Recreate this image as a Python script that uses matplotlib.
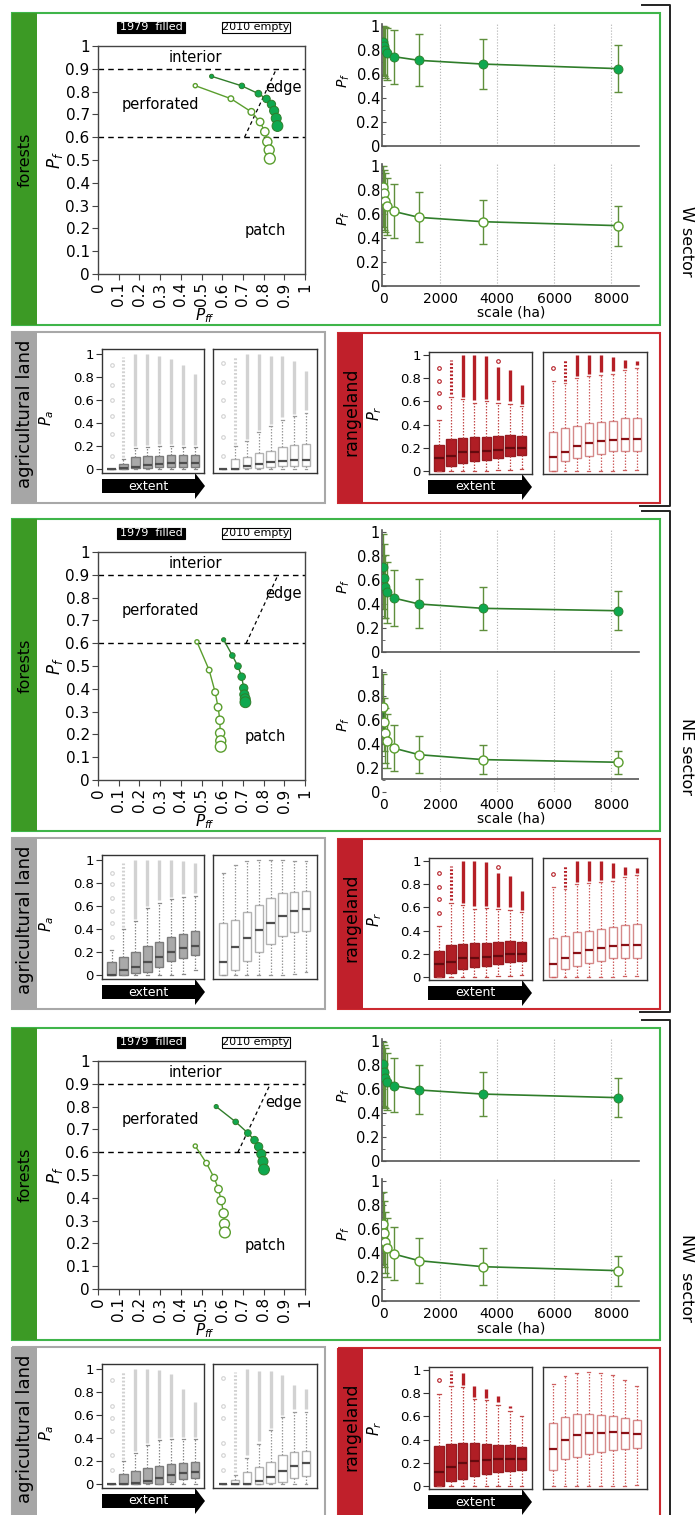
import matplotlib
matplotlib.use("Agg")
import matplotlib.pyplot as plt
import numpy as np
from matplotlib.patches import Rectangle, FancyArrow
from matplotlib.ticker import MultipleLocator

W, H = 697, 1515

SECTOR_OFFSETS = [0, 506, 1015]
SECTOR_NAMES = ["W sector", "NE sector", "NW  sector"]
SECTOR_LABEL_Y = [241, 757, 1278]

# forest profiles: P_ff vs P_f for increasing window size
W_PFF_1979 = [0.549, 0.695, 0.775, 0.814, 0.838, 0.851, 0.861, 0.867]
W_PF_1979 = [0.867, 0.825, 0.791, 0.768, 0.744, 0.716, 0.683, 0.649]
W_PFF_2010 = [0.470, 0.642, 0.741, 0.783, 0.806, 0.818, 0.827, 0.830]
W_PF_2010 = [0.826, 0.769, 0.711, 0.667, 0.624, 0.580, 0.544, 0.506]
NE_PFF_1979 = [0.607, 0.649, 0.676, 0.694, 0.704, 0.707, 0.711, 0.712]
NE_PF_1979 = [0.615, 0.546, 0.499, 0.453, 0.403, 0.375, 0.356, 0.341]
NE_PFF_2010 = [0.478, 0.537, 0.566, 0.580, 0.589, 0.590, 0.593, 0.593]
NE_PF_2010 = [0.606, 0.482, 0.385, 0.319, 0.262, 0.206, 0.172, 0.146]
NW_PFF_1979 = [0.571, 0.665, 0.724, 0.756, 0.776, 0.789, 0.797, 0.802]
NW_PF_1979 = [0.800, 0.733, 0.684, 0.653, 0.624, 0.592, 0.559, 0.524]
NW_PFF_2010 = [0.470, 0.524, 0.561, 0.582, 0.595, 0.607, 0.611, 0.613]
NW_PF_2010 = [0.627, 0.552, 0.488, 0.438, 0.388, 0.332, 0.285, 0.248]

# dashed "edge" boundary, from (P_ff, 0.6) to (P_ff, 0.9)
EDGE_W = [0.708, 0.862]
EDGE_NE = [0.716, 0.870]
EDGE_NW = [0.676, 0.833]

# P_f against scale, mean with error bars
SCALE_HA = [5, 20, 50, 140, 370, 1260, 3500, 8250]
W_MEAN_1979 = [0.87, 0.83, 0.80, 0.775, 0.745, 0.714, 0.683, 0.645]
W_LO_1979 = [0.59, 0.58, 0.57, 0.55, 0.52, 0.50, 0.475, 0.45]
W_HI_1979 = [1.0, 0.99, 0.99, 0.98, 0.97, 0.93, 0.89, 0.84]
W_MEAN_2010 = [0.828, 0.772, 0.708, 0.667, 0.622, 0.572, 0.536, 0.503]
W_LO_2010 = [0.49, 0.47, 0.45, 0.425, 0.397, 0.37, 0.35, 0.336]
W_HI_2010 = [1.0, 0.97, 0.944, 0.897, 0.847, 0.78, 0.717, 0.667]
NE_MEAN_1979 = [0.711, 0.614, 0.544, 0.50, 0.45, 0.40, 0.364, 0.344]
NE_LO_1979 = [0.36, 0.286, 0.28, 0.244, 0.22, 0.20, 0.183, 0.18]
NE_HI_1979 = [0.98, 0.90, 0.81, 0.75, 0.68, 0.606, 0.544, 0.506]
NE_MEAN_2010 = [0.711, 0.587, 0.488, 0.427, 0.366, 0.311, 0.27, 0.248]
NE_LO_2010 = [0.40, 0.34, 0.24, 0.20, 0.174, 0.16, 0.15, 0.15]
NE_HI_2010 = [0.98, 0.785, 0.70, 0.647, 0.556, 0.463, 0.39, 0.344]
NW_MEAN_1979 = [0.806, 0.739, 0.689, 0.661, 0.628, 0.592, 0.558, 0.528]
NW_LO_1979 = [0.46, 0.453, 0.44, 0.425, 0.406, 0.392, 0.378, 0.367]
NW_HI_1979 = [0.99, 0.967, 0.94, 0.897, 0.856, 0.80, 0.744, 0.689]
NW_MEAN_2010 = [0.642, 0.564, 0.494, 0.442, 0.392, 0.336, 0.286, 0.253]
NW_LO_2010 = [0.31, 0.286, 0.23, 0.197, 0.175, 0.153, 0.133, 0.128]
NW_HI_2010 = [0.91, 0.83, 0.744, 0.69, 0.62, 0.522, 0.439, 0.375]

# box plots: q1, median, q3, whisker low/high, top of outlier column, single outliers
W_AGRI_1979 = dict(
    q1=[0, 0, 0.01, 0.01, 0.02, 0.02, 0.02, 0.02],
    med=[0, 0.01, 0.02, 0.035, 0.04, 0.05, 0.05, 0.05],
    q3=[0, 0.04, 0.10, 0.11, 0.11, 0.12, 0.12, 0.12],
    lo=[0, 0, 0, 0, 0, 0, 0, 0],
    hi=[0, 0.085, 0.18, 0.19, 0.20, 0.20, 0.19, 0.19],
    top=[0, 0.97, 1.0, 1.0, 0.98, 0.96, 0.90, 0.83],
    single={0: [0.11, 0.30, 0.46, 0.60, 0.73, 0.90]},
)
W_AGRI_2010 = dict(
    q1=[0, 0, 0.005, 0.01, 0.02, 0.03, 0.03, 0.03],
    med=[0, 0.0, 0.03, 0.045, 0.06, 0.07, 0.08, 0.08],
    q3=[0, 0.085, 0.10, 0.137, 0.16, 0.19, 0.21, 0.22],
    lo=[0, 0, 0, 0, 0, 0, 0, 0],
    hi=[0, 0.20, 0.24, 0.32, 0.37, 0.43, 0.46, 0.49],
    top=[0, 0.97, 1.0, 1.0, 0.98, 0.98, 0.94, 0.85],
    single={0: [0.11, 0.28, 0.46, 0.60, 0.76, 0.92]},
)
W_RANGE_1979 = dict(
    q1=[0, 0.04, 0.065, 0.085, 0.095, 0.11, 0.125, 0.135],
    med=[0.115, 0.125, 0.16, 0.165, 0.175, 0.185, 0.195, 0.20],
    q3=[0.22, 0.28, 0.285, 0.29, 0.295, 0.305, 0.31, 0.305],
    lo=[0, 0, 0, 0, 0, 0.005, 0.01, 0.015],
    hi=[0.44, 0.64, 0.62, 0.59, 0.60, 0.59, 0.58, 0.56],
    top=[0, 0.96, 1.0, 1.0, 0.99, 0.90, 0.87, 0.74],
    single={0: [0.556, 0.67, 0.78, 0.89], 5: [0.945]},
)
W_RANGE_2010 = dict(
    q1=[0, 0.09, 0.11, 0.13, 0.15, 0.17, 0.17, 0.17],
    med=[0.12, 0.165, 0.215, 0.24, 0.255, 0.27, 0.28, 0.28],
    q3=[0.337, 0.37, 0.39, 0.41, 0.42, 0.435, 0.455, 0.46],
    lo=[0, 0, 0, 0, 0, 0, 0.005, 0.01],
    hi=[0.78, 0.76, 0.80, 0.82, 0.83, 0.84, 0.87, 0.89],
    top=[0, 0.96, 1.0, 1.0, 1.0, 0.98, 0.96, 0.95],
    single={0: [0.89]},
)
NE_AGRI_1979 = dict(
    q1=[0, 0, 0.015, 0.03, 0.07, 0.12, 0.145, 0.17],
    med=[0, 0.04, 0.065, 0.11, 0.155, 0.20, 0.235, 0.255],
    q3=[0.11, 0.16, 0.20, 0.25, 0.29, 0.33, 0.36, 0.38],
    lo=[0, 0, 0, 0, 0, 0, 0.01, 0.04],
    hi=[0.22, 0.40, 0.47, 0.58, 0.63, 0.66, 0.68, 0.69],
    top=[0, 0.97, 1.0, 1.0, 1.0, 1.0, 0.99, 0.97],
    single={0: [0.33, 0.45, 0.56, 0.67, 0.79, 0.89]},
)
NE_AGRI_2010 = dict(
    q1=[0, 0.04, 0.12, 0.20, 0.27, 0.34, 0.37, 0.38],
    med=[0.115, 0.24, 0.32, 0.39, 0.45, 0.515, 0.555, 0.57],
    q3=[0.45, 0.48, 0.55, 0.61, 0.67, 0.71, 0.72, 0.73],
    lo=[0, 0, 0, 0, 0, 0, 0.01, 0.03],
    hi=[0.89, 0.96, 0.99, 1.0, 1.0, 1.0, 0.99, 0.99],
    top=[0, 0, 0, 0, 0, 0, 0, 0],
    single={},
)
NE_RANGE_1979 = dict(
    q1=[0, 0.038, 0.065, 0.085, 0.095, 0.11, 0.125, 0.135],
    med=[0.11, 0.13, 0.162, 0.165, 0.175, 0.185, 0.195, 0.20],
    q3=[0.226, 0.278, 0.285, 0.29, 0.295, 0.305, 0.31, 0.305],
    lo=[0, 0, 0, 0, 0, 0.005, 0.01, 0.015],
    hi=[0.443, 0.64, 0.62, 0.59, 0.595, 0.585, 0.58, 0.56],
    top=[0, 0.96, 1.0, 1.0, 0.99, 0.90, 0.87, 0.74],
    single={0: [0.554, 0.67, 0.78, 0.893], 5: [0.945]},
)
NE_RANGE_2010 = dict(
    q1=[0, 0.072, 0.096, 0.119, 0.14, 0.16, 0.16, 0.16],
    med=[0.11, 0.16, 0.206, 0.235, 0.25, 0.264, 0.275, 0.275],
    q3=[0.333, 0.357, 0.386, 0.40, 0.414, 0.43, 0.45, 0.458],
    lo=[0, 0, 0, 0, 0, 0, 0.005, 0.01],
    hi=[0.777, 0.757, 0.80, 0.81, 0.82, 0.83, 0.86, 0.88],
    top=[0, 0.96, 1.0, 1.0, 1.0, 0.98, 0.95, 0.94],
    single={0: [0.884]},
)
NW_AGRI_1979 = dict(
    q1=[0, 0, 0.0, 0.01, 0.0, 0.02, 0.04, 0.05],
    med=[0, 0.0, 0.01, 0.03, 0.05, 0.075, 0.095, 0.105],
    q3=[0, 0.087, 0.11, 0.14, 0.16, 0.17, 0.18, 0.19],
    lo=[0, 0, 0, 0, 0, 0, 0, 0],
    hi=[0, 0.20, 0.27, 0.34, 0.38, 0.39, 0.39, 0.39],
    top=[0, 0.97, 1.0, 1.0, 0.99, 0.96, 0.83, 0.71],
    single={0: [0.12, 0.25, 0.46, 0.57, 0.68, 0.90]},
)
NW_AGRI_2010 = dict(
    q1=[0, 0, 0, 0, 0.005, 0.02, 0.05, 0.07],
    med=[0, 0, 0.0, 0.025, 0.06, 0.11, 0.16, 0.185],
    q3=[0, 0.035, 0.10, 0.145, 0.19, 0.25, 0.28, 0.29],
    lo=[0, 0, 0, 0, 0, 0, 0, 0],
    hi=[0, 0.08, 0.23, 0.35, 0.47, 0.58, 0.63, 0.63],
    top=[0, 0.97, 1.0, 0.98, 0.98, 0.95, 0.86, 0.83],
    single={0: [0.12, 0.25, 0.36, 0.57, 0.68, 0.92]},
)
NW_RANGE_1979 = dict(
    q1=[0, 0.04, 0.06, 0.085, 0.10, 0.12, 0.13, 0.135],
    med=[0.117, 0.166, 0.194, 0.214, 0.22, 0.23, 0.23, 0.23],
    q3=[0.343, 0.366, 0.37, 0.37, 0.36, 0.35, 0.35, 0.34],
    lo=[0, 0, 0, 0, 0, 0, 0, 0],
    hi=[0.79, 0.866, 0.85, 0.75, 0.74, 0.70, 0.65, 0.60],
    top=[0, 0.99, 0.97, 0.866, 0.837, 0.78, 0.694, 0],
    single={0: [0.91]},
)
NW_RANGE_2010 = dict(
    q1=[0.137, 0.237, 0.25, 0.28, 0.294, 0.306, 0.317, 0.329],
    med=[0.323, 0.394, 0.437, 0.457, 0.457, 0.463, 0.457, 0.446],
    q3=[0.546, 0.594, 0.617, 0.617, 0.609, 0.603, 0.589, 0.571],
    lo=[0, 0, 0, 0, 0, 0, 0, 0.01],
    hi=[0.88, 0.946, 0.97, 0.98, 0.97, 0.957, 0.914, 0.866],
    top=[0, 0, 0, 0, 0, 0, 0, 0],
    single={},
)

SECTORS = [
    dict(pff79=W_PFF_1979, pf79=W_PF_1979, pff10=W_PFF_2010, pf10=W_PF_2010, edge=EDGE_W,
         m79=W_MEAN_1979, lo79=W_LO_1979, hi79=W_HI_1979,
         m10=W_MEAN_2010, lo10=W_LO_2010, hi10=W_HI_2010,
         agri=(W_AGRI_1979, W_AGRI_2010), rng=(W_RANGE_1979, W_RANGE_2010)),
    dict(pff79=NE_PFF_1979, pf79=NE_PF_1979, pff10=NE_PFF_2010, pf10=NE_PF_2010, edge=EDGE_NE,
         m79=NE_MEAN_1979, lo79=NE_LO_1979, hi79=NE_HI_1979,
         m10=NE_MEAN_2010, lo10=NE_LO_2010, hi10=NE_HI_2010,
         agri=(NE_AGRI_1979, NE_AGRI_2010), rng=(NE_RANGE_1979, NE_RANGE_2010)),
    dict(pff79=NW_PFF_1979, pf79=NW_PF_1979, pff10=NW_PFF_2010, pf10=NW_PF_2010, edge=EDGE_NW,
         m79=NW_MEAN_1979, lo79=NW_LO_1979, hi79=NW_HI_1979,
         m10=NW_MEAN_2010, lo10=NW_LO_2010, hi10=NW_HI_2010,
         agri=(NW_AGRI_1979, NW_AGRI_2010), rng=(NW_RANGE_1979, NW_RANGE_2010)),
]

TENTH_LABELS = ["0", "0.1", "0.2", "0.3", "0.4", "0.5", "0.6", "0.7", "0.8", "0.9", "1"]
FIFTH_LABELS = ["0", "0.2", "0.4", "0.6", "0.8", "1"]

GREEN_BAR = "#3c9a25"
GREEN_LINE = "#3fb54a"
GREEN_FILL = "#0fa84f"
GREEN_DARK = "#2f7d2a"
GREEN_EMPTY = "#5a9e2e"
ERR_GREEN = "#5f8f3c"
GRAY_BAR = "#a6a6a6"
GRAY_LINE = "#a8a8a8"
RED_BAR = "#c0202b"
RED_LINE = "#cc2a30"
AXIS_GRAY = "#444444"

MARKER_SIZES = [3.0, 4.0, 4.8, 5.4, 6.0, 6.6, 7.2, 7.8]

AGRI_79_STYLE = dict(face="#a9a9a9", edge="#7c7c7c", med="#4e4e4e", whisk="#8a8a8a", col="#d2d2d2")
AGRI_10_STYLE = dict(face="white", edge="#b3b3b3", med="#4e4e4e", whisk="#9a9a9a", col="#d2d2d2")
RANGE_79_STYLE = dict(face="#b01e25", edge="#971a20", med="#640a0e", whisk="#c34a4a", col="#b51f26")
RANGE_10_STYLE = dict(face="white", edge="#d58a8a", med="#8a1015", whisk="#cf6060", col="#b51f26")

fig = plt.figure(figsize=(W / 100, H / 100), dpi=100)
bg = fig.add_axes([0, 0, 1, 1], zorder=0)
bg.set_xlim(0, W)
bg.set_ylim(H, 0)
bg.axis("off")


def px_axes(x0, y0, x1, y1):
    ax = fig.add_axes([x0 / W, 1 - y1 / H, (x1 - x0) / W, (y1 - y0) / H], zorder=1)
    ax.set_facecolor("none")
    return ax


def draw_profile(ax, sec):
    ax.set_xlim(0, 1)
    ax.set_ylim(0, 1)
    ax.axhline(0.9, color="black", lw=1, ls=(0, (4, 3)))
    ax.axhline(0.6, color="black", lw=1, ls=(0, (4, 3)))
    ax.plot(sec["edge"], [0.6, 0.9], color="black", lw=0.9, ls=(0, (3, 2.5)))
    sizes = np.array(MARKER_SIZES) ** 2
    ax.plot(sec["pff10"], sec["pf10"], color=GREEN_EMPTY, lw=1, zorder=2)
    ax.scatter(sec["pff10"], sec["pf10"], s=sizes, facecolor="white", edgecolor=GREEN_EMPTY, lw=1, zorder=3)
    ax.plot(sec["pff79"], sec["pf79"], color=GREEN_DARK, lw=1, zorder=2)
    ax.scatter(sec["pff79"], sec["pf79"], s=sizes, facecolor=GREEN_FILL, edgecolor=GREEN_DARK, lw=0.7, zorder=4)
    ax.text(0.47, 0.95, "interior", ha="center", va="center", fontsize=10.5)
    ax.text(0.30, 0.745, "perforated", ha="center", va="center", fontsize=10.5)
    ax.text(0.81, 0.82, "edge", ha="left", va="center", fontsize=10.5)
    ax.text(0.81, 0.19, "patch", ha="center", va="center", fontsize=10.5)
    ax.set_xticks(np.arange(11) / 10)
    ax.set_xticklabels(TENTH_LABELS, rotation=90)
    ax.set_yticks(np.arange(11) / 10)
    ax.set_yticklabels(TENTH_LABELS)
    ax.tick_params(labelsize=11, direction="out", length=4, color=AXIS_GRAY, pad=2)
    for sp in ax.spines.values():
        sp.set_color(AXIS_GRAY)
        sp.set_linewidth(1)


def draw_scale(ax, mean, lo, hi, filled, bottom, spine_at=0.0):
    ax.set_xlim(-40, 8980)
    ax.set_ylim(0, 1.017)
    mean = np.array(mean)
    yerr = [mean - np.array(lo), np.array(hi) - mean]
    for x in [2000, 4000, 6000, 8000]:
        ax.axvline(x, color="#b0b0b0", lw=0.8, ls=":", zorder=0)
    ax.errorbar(SCALE_HA, mean, yerr=yerr, fmt="none", ecolor=ERR_GREEN, elinewidth=1, capsize=2.8, capthick=1, zorder=2)
    ax.plot(SCALE_HA, mean, color=GREEN_DARK, lw=1.2, zorder=3)
    if filled:
        ax.plot(SCALE_HA, mean, "o", ms=6.5, mfc=GREEN_FILL, mec=GREEN_DARK, mew=0.6, zorder=4)
    else:
        ax.plot(SCALE_HA, mean, "o", ms=6.5, mfc="white", mec=GREEN_EMPTY, mew=1, zorder=4)
    ax.spines["top"].set_visible(False)
    ax.spines["right"].set_visible(False)
    for side in ("left", "bottom"):
        ax.spines[side].set_color("#555555")
        ax.spines[side].set_linewidth(1.2)
    if spine_at > 0:
        ax.spines["bottom"].set_visible(False)
        ax.axhline(spine_at, color="#555555", lw=1.2)
        ax.spines["left"].set_bounds(spine_at, 1.017)
    ax.set_yticks(np.arange(6) / 5)
    ax.set_yticklabels(FIFTH_LABELS)
    ax.yaxis.set_minor_locator(MultipleLocator(0.1))
    ax.set_xticks([0, 2000, 4000, 6000, 8000])
    ax.tick_params(axis="y", which="major", labelsize=10.5, direction="in", length=3, color="#555555", pad=1.5)
    ax.tick_params(axis="y", which="minor", direction="in", length=2, color="#555555")
    ax.tick_params(axis="x", length=0, labelsize=10, pad=4)
    if not bottom:
        ax.set_xticklabels([])


def draw_boxes(ax, d, style, xlim, ylim, width, ylabels):
    stats = []
    for i in range(len(d["med"])):
        stats.append(dict(med=d["med"][i], q1=d["q1"][i], q3=d["q3"][i],
                          whislo=d["lo"][i], whishi=d["hi"][i], fliers=[]))
    pos = np.arange(1, len(stats) + 1)
    ax.bxp(stats, positions=pos, widths=width, showfliers=False, patch_artist=True,
           capwidths=width * 0.35,
           boxprops=dict(facecolor=style["face"], edgecolor=style["edge"], lw=1),
           medianprops=dict(color=style["med"], lw=1.6),
           whiskerprops=dict(color=style["whisk"], lw=0.9, ls=(0, (1.2, 1.2))),
           capprops=dict(color=style["whisk"], lw=0.9))
    for i, top in enumerate(d["top"]):
        if top > d["hi"][i]:
            if i == 1:
                ax.vlines(pos[i], d["hi"][i] + 0.02, top, color=style["col"], lw=2.2,
                          ls=(0, (0.6, 0.6)), zorder=3)
            else:
                ax.vlines(pos[i], d["hi"][i] + 0.02, top, color=style["col"], lw=2.4, zorder=3)
    for i, vals in d["single"].items():
        ax.plot([pos[i]] * len(vals), vals, "o", ms=2.6, mfc="none", mec=style["col"], mew=0.8, zorder=3)
    ax.set_xlim(*xlim)
    ax.set_ylim(*ylim)
    ax.set_xticks([])
    if ylabels:
        ax.set_yticks(np.arange(6) / 5)
        ax.set_yticklabels(FIFTH_LABELS)
        ax.tick_params(axis="y", labelsize=9.5, length=4, color="#333333", pad=2)
    else:
        ax.set_yticks([])
    for sp in ax.spines.values():
        sp.set_color("#333333")
        sp.set_linewidth(1)


def extent_arrow(x0, x1, yc):
    bg.add_patch(FancyArrow(x0, yc, x1 - x0, 0, width=14, head_width=26, head_length=10,
                            length_includes_head=True, color="black", lw=0))
    bg.text((x0 + x1 - 10) / 2, yc, "extent", color="white", ha="center", va="center", fontsize=9)


for k, off in enumerate(SECTOR_OFFSETS):
    sec = SECTORS[k]

    # panel frames and colored side bars
    bg.add_patch(Rectangle((12, 13 + off), 648, 312, fill=False, ec=GREEN_LINE, lw=1.5))
    bg.add_patch(Rectangle((12, 13 + off), 25, 312, fc=GREEN_BAR, ec="none"))
    bg.add_patch(Rectangle((12, 332 + off), 313, 171, fill=False, ec=GRAY_LINE, lw=1.5))
    bg.add_patch(Rectangle((12, 332 + off), 25, 171, fc=GRAY_BAR, ec="none"))
    bg.add_patch(Rectangle((338, 333 + off), 322, 170, fill=False, ec=RED_LINE, lw=1.5))
    bg.add_patch(Rectangle((338, 333 + off), 25, 170, fc=RED_BAR, ec="none"))

    bg.text(25, 160 + off, "forests", rotation=90, ha="center", va="center", fontsize=11.5)
    bg.text(25, 414 + off, "agricultural land", rotation=90, ha="center", va="center", fontsize=13)
    bg.text(351, 412 + off, "rangeland", rotation=90, ha="center", va="center", fontsize=12.5)

    # sector bracket
    bg.plot([642, 670, 670, 640], [5 + off, 5 + off, 506 + off, 506 + off], color="#222222", lw=1.4)
    bg.text(687, SECTOR_LABEL_Y[k], SECTOR_NAMES[k], rotation=-90, ha="center", va="center", fontsize=11.5)

    # legend tags
    bg.add_patch(Rectangle((117, 21.5 + off), 68, 11, fc="black", ec="black", lw=0.8))
    bg.text(151, 27 + off, "1979  filled", color="white", ha="center", va="center", fontsize=8)
    bg.add_patch(Rectangle((222, 21.5 + off), 68, 11, fc="white", ec="black", lw=0.8))
    bg.text(256, 27 + off, "2010 empty", color="black", ha="center", va="center", fontsize=8)

    # forest profile
    ax = px_axes(98, 46 + off, 305, 274 + off)
    draw_profile(ax, sec)
    bg.text(55, 160 + off, "$P_f$", rotation=90, ha="center", va="center", fontsize=12)
    bg.text(205, 316 + off, "$P_{ff}$", ha="center", va="center", fontsize=11)

    # P_f against scale
    ax_top = px_axes(382, 24 + off, 639, 146 + off)
    draw_scale(ax_top, sec["m79"], sec["lo79"], sec["hi79"], True, False)
    ax_bot = px_axes(382, 164 + off, 639, 286 + off)
    draw_scale(ax_bot, sec["m10"], sec["lo10"], sec["hi10"], False, True,
               spine_at=0.107 if k == 1 else 0.0)
    bg.text(344, 80 + off, "$P_f$", rotation=90, ha="center", va="center", fontsize=10)
    bg.text(344, 218 + off, "$P_f$", rotation=90, ha="center", va="center", fontsize=10)
    bg.text(511, 313 + off, "scale (ha)", ha="center", va="center", fontsize=10)

    # agricultural land box plots
    a79, a10 = sec["agri"]
    ax_a1 = px_axes(102, 349 + off, 204, 473 + off)
    draw_boxes(ax_a1, a79, AGRI_79_STYLE, (0.2, 8.75), (-0.035, 1.043), 0.7, True)
    ax_a2 = px_axes(213, 349 + off, 317, 473 + off)
    draw_boxes(ax_a2, a10, AGRI_10_STYLE, (0.13, 8.93), (-0.035, 1.043), 0.7, False)
    bg.text(47, 418 + off, "$P_a$", rotation=90, ha="center", va="center", fontsize=10.5)
    extent_arrow(102, 205, 486 + off)

    # rangeland box plots
    r79, r10 = sec["rng"]
    ax_r1 = px_axes(429, 352 + off, 532, 474 + off)
    draw_boxes(ax_r1, r79, RANGE_79_STYLE, (0.15, 8.87), (-0.026, 1.026), 0.8, True)
    ax_r2 = px_axes(543, 352 + off, 647, 474 + off)
    draw_boxes(ax_r2, r10, RANGE_10_STYLE, (0.16, 8.86), (-0.026, 1.026), 0.7, False)
    bg.text(375, 413 + off, "$P_r$", rotation=90, ha="center", va="center", fontsize=10.5)
    extent_arrow(428, 532, 487 + off)

fig.savefig("out.png", dpi=100)
